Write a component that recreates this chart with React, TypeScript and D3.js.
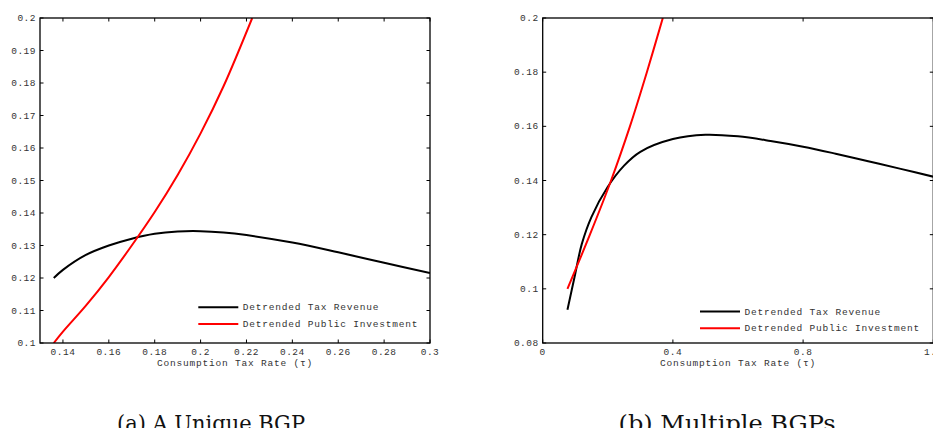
import React, { useEffect, useRef } from "react";
import * as d3 from "d3";

// panel (a): a unique BGP
const tauRevA = [0.136, 0.14, 0.15, 0.16, 0.17, 0.18, 0.19, 0.2, 0.21, 0.22, 0.24, 0.26, 0.28, 0.3];
const revenueA = [0.12, 0.1225, 0.1271, 0.13, 0.1321, 0.1336, 0.1343, 0.1344, 0.134, 0.1332, 0.1309, 0.1279, 0.1247, 0.1215];
const tauInvA = [0.136, 0.14, 0.15, 0.16, 0.17, 0.18, 0.19, 0.2, 0.21, 0.2225];
const investA = [0.1, 0.1035, 0.1115, 0.1203, 0.13, 0.1403, 0.1517, 0.1645, 0.179, 0.2];
const xTicksA = [0.14, 0.16, 0.18, 0.2, 0.22, 0.24, 0.26, 0.28, 0.3];
const yTicksA = [0.1, 0.11, 0.12, 0.13, 0.14, 0.15, 0.16, 0.17, 0.18, 0.19, 0.2];

// panel (b): multiple BGPs
const tauRevB = [0.076, 0.09, 0.1, 0.12, 0.15, 0.2, 0.25, 0.3, 0.4, 0.5, 0.6, 0.7, 0.8, 0.9, 1.0, 1.1, 1.2];
const revenueB = [0.0923, 0.1, 0.1056, 0.1165, 0.1266, 0.1377, 0.1455, 0.1506, 0.1553, 0.1569, 0.1563, 0.1546, 0.1525, 0.1499, 0.1471, 0.1443, 0.1414];
const tauInvB = [0.076, 0.145, 0.21, 0.268, 0.32, 0.369];
const investB = [0.1, 0.12, 0.14, 0.16, 0.18, 0.2];
const xTicksB = [0, 0.4, 0.8, 1.2];
const yTicksB = [0.08, 0.1, 0.12, 0.14, 0.16, 0.18, 0.2];

const legendLabels = ["Detrended Tax Revenue", "Detrended Public Investment"];
const xTitle = "Consumption Tax Rate (\u03c4)";
const captions = ["(a) A Unique BGP", "(b) Multiple BGPs"];

const mono = "'Liberation Mono', 'DejaVu Sans Mono', monospace";
const textColor = "#333";

function drawPanel(svg, opts) {
  const { left, right, top, bottom, xDomain, yDomain, xTicks, yTicks, rev, inv, legendX, legendY } = opts;
  const x = d3.scaleLinear().domain(xDomain).range([left, right]);
  const y = d3.scaleLinear().domain(yDomain).range([bottom, top]);
  const g = svg.append("g");
  const tl = 3.5;
  const fmt = (t) => String(+t.toFixed(2));

  // ticks on all four sides, pointing in
  xTicks.forEach((t) => {
    g.append("line").attr("x1", x(t)).attr("x2", x(t)).attr("y1", bottom).attr("y2", bottom - tl).attr("stroke", "#000");
    g.append("line").attr("x1", x(t)).attr("x2", x(t)).attr("y1", top).attr("y2", top + tl).attr("stroke", "#000");
    g.append("text").attr("x", x(t)).attr("y", bottom + 12).attr("text-anchor", "middle").text(fmt(t));
  });
  yTicks.forEach((t) => {
    g.append("line").attr("x1", left).attr("x2", left + tl).attr("y1", y(t)).attr("y2", y(t)).attr("stroke", "#000");
    g.append("line").attr("x1", right).attr("x2", right - tl).attr("y1", y(t)).attr("y2", y(t)).attr("stroke", "#000");
    g.append("text").attr("x", left - 4).attr("y", y(t) + 3).attr("text-anchor", "end").text(fmt(t));
  });

  g.selectAll("text")
    .attr("font-family", mono)
    .attr("font-size", 9.5)
    .attr("letter-spacing", 0.5)
    .attr("fill", textColor);

  const line = d3
    .line()
    .x((d) => x(d[0]))
    .y((d) => y(d[1]))
    .curve(d3.curveCatmullRom.alpha(0.5));

  const clipId = "clip" + Math.round(left);
  svg
    .append("clipPath")
    .attr("id", clipId)
    .append("rect")
    .attr("x", left)
    .attr("y", top)
    .attr("width", right - left)
    .attr("height", bottom - top);

  const lines = svg.append("g").attr("clip-path", `url(#${clipId})`);
  lines.append("path").attr("d", line(rev)).attr("fill", "none").attr("stroke", "#000").attr("stroke-width", 2);
  lines.append("path").attr("d", line(inv)).attr("fill", "none").attr("stroke", "#ff0000").attr("stroke-width", 2);

  // frame
  svg
    .append("rect")
    .attr("x", left)
    .attr("y", top)
    .attr("width", right - left)
    .attr("height", bottom - top)
    .attr("fill", "none")
    .attr("stroke", "#000")
    .attr("stroke-width", 1.3);

  // legend
  ["#000", "#ff0000"].forEach((c, i) => {
    const ly = legendY + i * 16.7;
    svg.append("line").attr("x1", legendX).attr("x2", legendX + 40).attr("y1", ly).attr("y2", ly).attr("stroke", c).attr("stroke-width", 2);
    svg
      .append("text")
      .attr("x", legendX + 44.5)
      .attr("y", ly + 3)
      .attr("font-family", mono)
      .attr("font-size", 9.5)
      .attr("letter-spacing", 0.8)
      .attr("fill", textColor)
      .text(legendLabels[i]);
  });

  svg
    .append("text")
    .attr("x", (left + right) / 2)
    .attr("y", bottom + 23)
    .attr("text-anchor", "middle")
    .attr("font-family", mono)
    .attr("font-size", 9.5)
    .attr("letter-spacing", 0.8)
    .attr("fill", textColor)
    .text(xTitle);
}

export default function App() {
  const ref = useRef(null);
  useEffect(() => {
    d3.select(ref.current).selectAll("*").remove();
    const svg = d3
      .select(ref.current)
      .append("svg")
      .attr("width", 941)
      .attr("height", 436)
      .style("display", "block")
      .style("background", "#fff");

    drawPanel(svg, {
      left: 40,
      right: 430,
      top: 18,
      bottom: 343,
      xDomain: [0.13, 0.3],
      yDomain: [0.1, 0.2],
      xTicks: xTicksA,
      yTicks: yTicksA,
      rev: tauRevA.map((t, i) => [t, revenueA[i]]),
      inv: tauInvA.map((t, i) => [t, investA[i]]),
      legendX: 198.3,
      legendY: 307.3,
    });

    drawPanel(svg, {
      left: 542.7,
      right: 933.3,
      top: 18,
      bottom: 343,
      xDomain: [0, 1.2],
      yDomain: [0.08, 0.2],
      xTicks: xTicksB,
      yTicks: yTicksB,
      rev: tauRevB.map((t, i) => [t, revenueB[i]]),
      inv: tauInvB.map((t, i) => [t, investB[i]]),
      legendX: 700,
      legendY: 311.5,
    });

    [117, 618.5].forEach((cx, i) => {
      svg
        .append("text")
        .attr("x", cx)
        .attr("y", 431)
        .attr("font-family", "'DejaVu Serif', 'Liberation Serif', serif")
        .attr("font-size", 22)
        .attr("textLength", i === 0 ? 188 : 217)
        .attr("lengthAdjust", "spacingAndGlyphs")
        .attr("fill", "#111")
        .text(captions[i]);
    });
  }, []);

  return <div ref={ref} style={{ margin: -8 }} />;
}
